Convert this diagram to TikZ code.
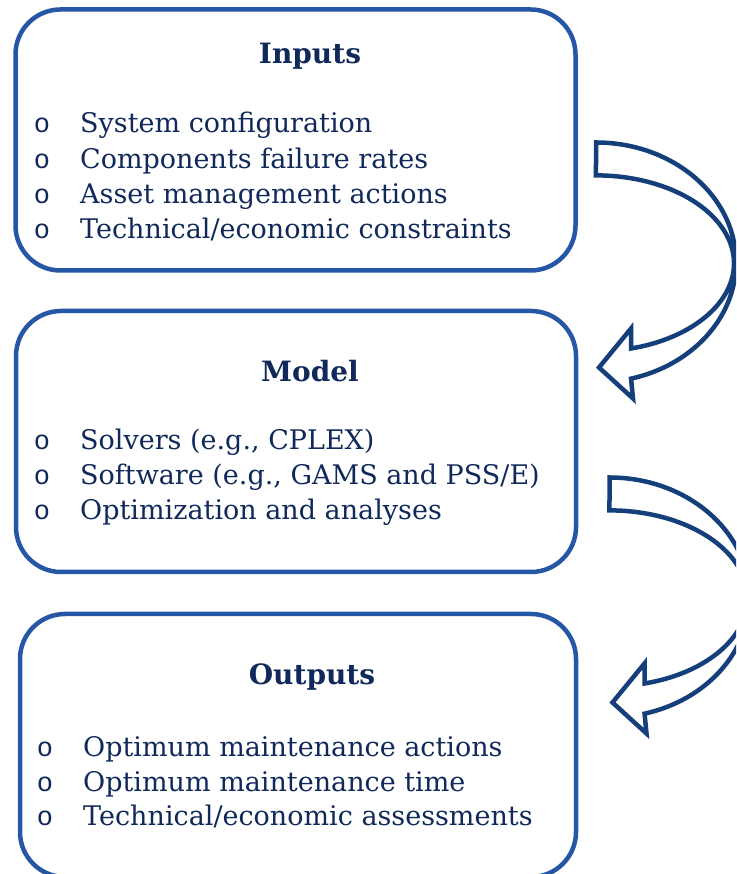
\documentclass[tikz,border=0pt]{standalone}
\usepackage{fontspec}
\setmainfont{DejaVu Serif}
\newfontfamily\bulletfont{Liberation Mono}
\usetikzlibrary{positioning}

\definecolor{boxblue}{HTML}{2557A6}
\definecolor{arrownavy}{HTML}{153F7B}
\definecolor{textnavy}{HTML}{10295A}

\tikzset{
  panel/.style={draw=boxblue, line width=4.5pt, rounded corners=45pt,
    minimum width=560pt, minimum height=261pt, inner sep=0pt},
  heading/.style={text=textnavy, anchor=base, inner sep=0pt,
    font=\fontsize{28}{30}\selectfont\bfseries},
  item/.style={text=textnavy, anchor=base west, inner sep=0pt,
    font=\fontsize{27}{30}\selectfont},
  dot/.style={text=textnavy, anchor=base, inner sep=0pt,
    font=\bulletfont\fontsize{27}{27}\selectfont},
  % curved block arrow, origin at the top left corner of its tail
  pics/turnarrow/.style={code={
    \draw[arrownavy, line width=4.5pt, line join=miter, fill=white]
      (0,0) arc[start angle=90, end angle=-75.5, x radius=140, y radius=120]
      -- (37,-256) -- (3,-225) -- (35,-186) -- (35,-206)
      arc[start angle=-75.3, end angle=90, x radius=138, y radius=88]
      -- cycle;
  }}
}

\begin{document}
\begin{tikzpicture}[x=1pt, y=1pt]
  \clip (0,0) rectangle (736,874);

  % the three panels
  \node[panel] (inputs) at (295.5,734) {};
  \node[panel] (model) at (296,432.5) {};
  \node[panel, minimum width=556pt, minimum height=263pt] (outputs) at (298,128.5) {};

  % arrows between the panels
  \pic at (596,731.5) {turnarrow};
  \pic at (609.5,396.5) {turnarrow};

  % headings
  \node[heading] (inputs title) at (310,810) {Inputs};
  \node[heading] (model title) at (310,492) {Model};
  \node[heading] (outputs title) at (312,189) {Outputs};

  % bullet lists
  \foreach \txt [count=\i] in {System configuration, Components failure rates,
      Asset management actions, Technical/economic constraints} {
    \node[dot] (inb\i) at (42,776.3-35.3*\i) {o};
    \node[item] (in\i) at (80,776.3-35.3*\i) {\txt};
  }
  \foreach \txt [count=\i] in {{Solvers (e.g., CPLEX)},
      {Software (e.g., GAMS and PSS/E)}, Optimization and analyses} {
    \node[dot] (mdb\i) at (42,459-35*\i) {o};
    \node[item] (md\i) at (80,459-35*\i) {\txt};
  }
  \foreach \txt [count=\i] in {Optimum maintenance actions,
      Optimum maintenance time, Technical/economic assessments} {
    \node[dot] (outb\i) at (45,151.5-34.5*\i) {o};
    \node[item] (out\i) at (83,151.5-34.5*\i) {\txt};
  }
\end{tikzpicture}
\end{document}
